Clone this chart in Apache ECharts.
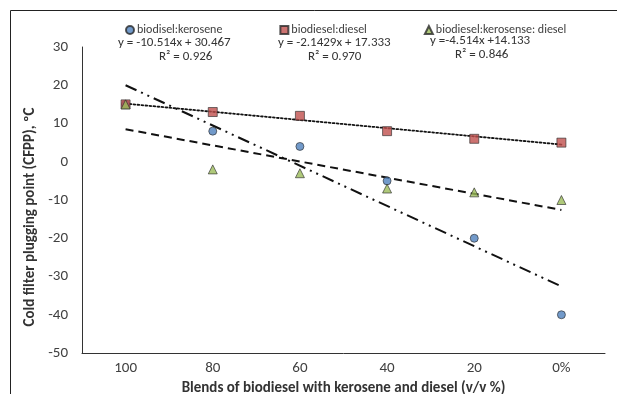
<!DOCTYPE html>
<html><head><meta charset="utf-8">
<script src="https://cdn.jsdelivr.net/npm/echarts@6/dist/echarts.min.js"></script>
<style>html,body{margin:0;padding:0;background:#fff}#c{width:617px;height:394px}</style>
</head><body><div id="c"></div>
<script>
// ---- data ----
const categories = ['100', '80', '60', '40', '20', '0%'];
const seriesNames = ['biodisel:kerosene', 'biodiesel:diesel', 'biodiesel:kerosense: diesel'];
const keroseneValues = [15, 8, 4, -5, -20, -40];
const dieselValues = [15, 13, 12, 8, 6, 5];
const keroseneDieselValues = [15, -2, -3, -7, -8, -10];
// trendline values at first and last category
const keroseneTrend = [20, -32.6];
const dieselTrend = [15.2, 4.5];
const keroseneDieselTrend = [8.5, -12.6];
const equations = ['y = -10.514x + 30.467', 'y = -2.1429x + 17.333', 'y =-4.514x +14.133'];
const rSquared = ['R\u00b2 = 0.926', 'R\u00b2 = 0.970', 'R\u00b2 = 0.846'];
const yMin = -50, yMax = 30, yStep = 10;

const FONT = 'Carlito, Lato, "Open Sans", sans-serif';
const last = categories.length - 1;
function trend(v) { return [[0, v[0]], [last, v[1]]]; }

const chart = echarts.init(document.getElementById('c'), null, {renderer: 'canvas'});
chart.setOption({
  animation: false,
  backgroundColor: '#fff',
  textStyle: {fontFamily: FONT},
  grid: {left: 82, right: 12, top: 47, bottom: 41, containLabel: false, outerBoundsMode: 'none'},
  legend: {
    data: [
      {name: seriesNames[0], icon: 'circle'},
      {name: seriesNames[1], icon: 'rect'},
      {name: seriesNames[2], icon: 'triangle'}
    ],
    left: 120, top: 19, itemGap: 57, itemWidth: 8, itemHeight: 8,
    textStyle: {fontSize: 12, color: '#404040', fontFamily: FONT, padding: [0, 0, 0, -2]}
  },
  xAxis: {
    type: 'category', data: categories, boundaryGap: true,
    axisLine: {onZero: false, lineStyle: {color: '#333', width: 1}},
    axisTick: {show: false},
    axisLabel: {fontSize: 15, color: '#404040', margin: 8, fontFamily: FONT},
    name: 'Blends of biodiesel with kerosene and diesel (v/v %)',
    nameLocation: 'middle', nameGap: 28,
    nameTextStyle: {fontSize: 15, fontWeight: 'bold', color: '#333', fontFamily: FONT}
  },
  yAxis: {
    type: 'value', min: yMin, max: yMax, interval: yStep,
    splitLine: {show: false},
    axisLine: {show: true, lineStyle: {color: '#333', width: 1}},
    axisTick: {show: false},
    axisLabel: {fontSize: 15, color: '#404040', margin: 14, fontFamily: FONT},
    name: 'Cold filter plugging point (CFPP), \u00baC',
    nameLocation: 'middle', nameGap: 40,
    nameTextStyle: {fontSize: 15, fontWeight: 'bold', color: '#333', fontFamily: FONT, padding: [0, 34, 0, 0]}
  },
  graphic: [
    {type: 'rect', silent: true, z: -1, shape: {x: 10.5, y: 10.5, width: 800, height: 600},
     style: {fill: 'none', stroke: '#222', lineWidth: 1}},
    {type: 'text', left: 118, top: 36, style: {text: equations[0], font: '13px ' + FONT, fill: '#333'}},
    {type: 'text', left: 159, top: 50, style: {text: rSquared[0], font: '13px ' + FONT, fill: '#333'}},
    {type: 'text', left: 278, top: 36, style: {text: equations[1], font: '13px ' + FONT, fill: '#333'}},
    {type: 'text', left: 308, top: 50, style: {text: rSquared[1], font: '13px ' + FONT, fill: '#333'}},
    {type: 'text', left: 430, top: 34, style: {text: equations[2], font: '13px ' + FONT, fill: '#333'}},
    {type: 'text', left: 455, top: 48, style: {text: rSquared[2], font: '13px ' + FONT, fill: '#333'}}
  ],
  series: [
    {type: 'line', data: trend(keroseneTrend), symbol: 'none', z: 1, silent: true,
     lineStyle: {color: '#111', width: 2, type: [12, 5, 2, 5, 2, 5]}},
    {type: 'line', data: trend(dieselTrend), symbol: 'none', z: 1, silent: true,
     lineStyle: {color: '#111', width: 1.8, type: [1.8, 2.2], cap: 'round'}},
    {type: 'line', data: trend(keroseneDieselTrend), symbol: 'none', z: 1, silent: true,
     lineStyle: {color: '#111', width: 2, type: [8, 5]}},
    {name: seriesNames[0], type: 'scatter', data: keroseneValues, symbol: 'circle', symbolSize: 8, z: 3,
     itemStyle: {color: '#4F81BD', borderColor: '#2b2b2b', borderWidth: 0.8}},
    {name: seriesNames[1], type: 'scatter', data: dieselValues, symbol: 'rect', symbolSize: 9, z: 4,
     itemStyle: {color: '#C0504D', borderColor: '#2b2b2b', borderWidth: 0.8}},
    {name: seriesNames[2], type: 'scatter', data: keroseneDieselValues, symbol: 'triangle', symbolSize: 9, z: 5,
     itemStyle: {color: '#9BBB59', borderColor: '#2b2b2b', borderWidth: 0.8}}
  ]
});
</script></body></html>
